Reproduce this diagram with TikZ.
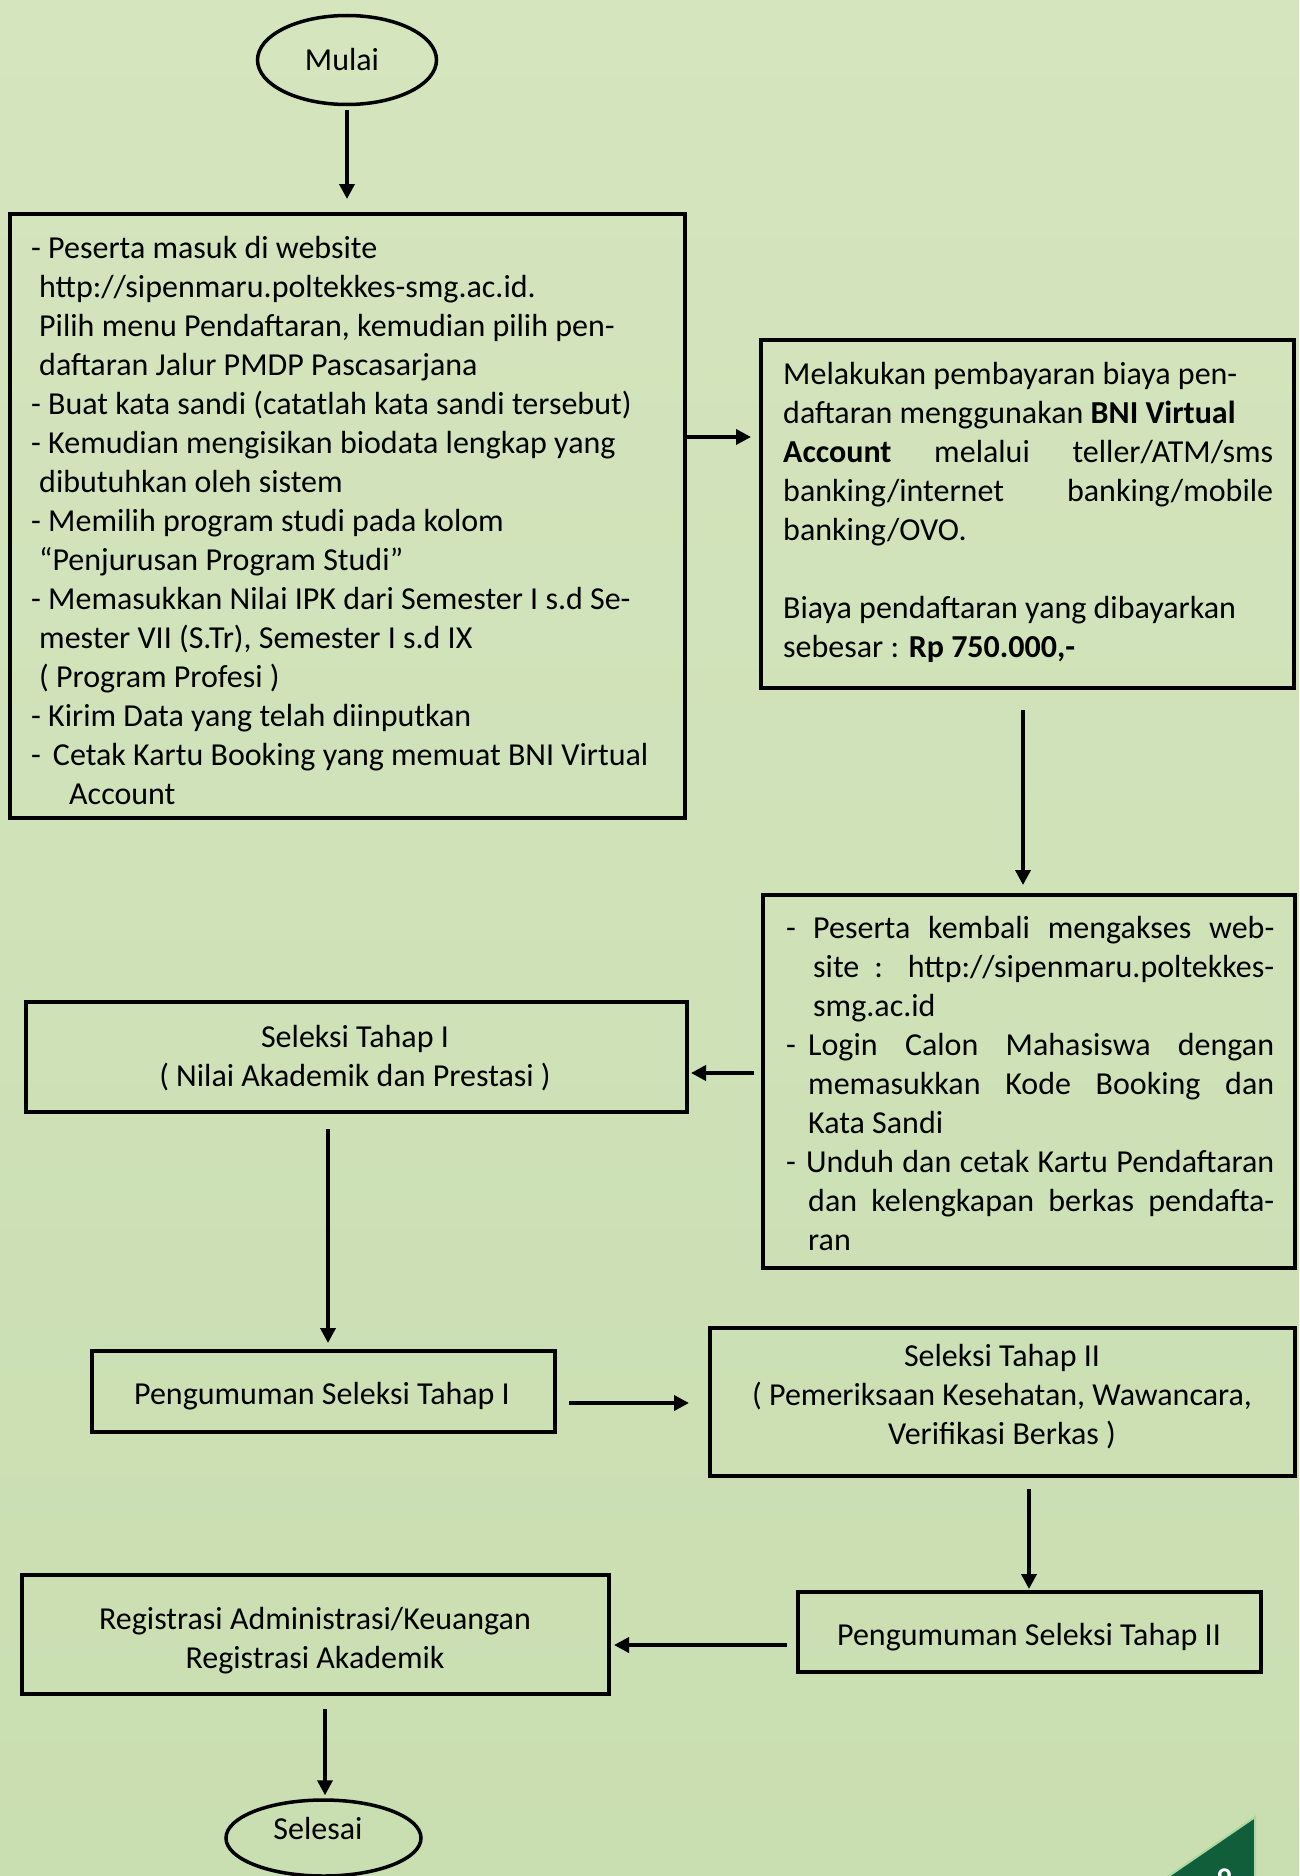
\documentclass[tikz,border=0pt]{standalone}
\usepackage{fontspec}
\setmainfont{Carlito}
\usetikzlibrary{arrows.meta,shapes.geometric,calc}
\definecolor{bgtop}{RGB}{213,229,190}
\definecolor{bgbot}{RGB}{201,222,177}
\definecolor{dkgreen}{RGB}{16,94,58}
\definecolor{edgegreen}{RGB}{172,214,162}
\begin{document}
\begin{tikzpicture}[x=1pt,y=-1pt,
  boxsty/.style={draw=black, line width=4pt, inner sep=0pt, rectangle},
  ovalsty/.style={ellipse, draw=black, line width=3.5pt, inner sep=0pt},
  txt/.style={inner sep=0pt, font=\fontsize{32}{39}\selectfont, align=left},
  ctxt/.style={inner sep=0pt, font=\fontsize{32}{39}\selectfont, align=center},
  arr/.style={line width=3.6pt, -{Triangle[width=15pt,length=15pt]}},
]
\useasboundingbox (0,0) rectangle (1299,1876);
\shade[top color=bgtop, bottom color=bgbot] (0,0) rectangle (1299,1876);

% ---- nodes ----
\node[ovalsty, minimum width=179pt, minimum height=89pt] (mulai) at (347,60) {};
\node[ctxt] (mulaiT) at (342,60) {Mulai};

\node[boxsty, minimum width=675pt, minimum height=604pt] (b1) at (347.5,516) {};
\node[txt, anchor=north west] (b1t) at (31,236) {%
- Peserta masuk di website\\
\hspace*{8pt}http://sipenmaru.poltekkes-smg.ac.id.\\
\hspace*{8pt}Pilih menu Pendaftaran, kemudian pilih pen-\\
\hspace*{8pt}daftaran Jalur PMDP Pascasarjana\\
- Buat kata sandi (catatlah kata sandi tersebut)\\
- Kemudian mengisikan biodata lengkap yang\\
\hspace*{8pt}dibutuhkan oleh sistem\\
- Memilih program studi pada kolom\\
\hspace*{8pt}“Penjurusan Program Studi”\\
- Memasukkan Nilai IPK dari Semester I s.d Se-\\
\hspace*{8pt}mester VII (S.Tr), Semester I s.d IX\\
\hspace*{8pt}( Program Profesi )\\
- Kirim Data yang telah diinputkan\\
-\hspace*{12pt}Cetak Kartu Booking yang memuat BNI Virtual\\
\hspace*{38pt}Account};

\node[boxsty, minimum width=533pt, minimum height=348pt] (b2) at (1027.5,514) {};
\node[txt, anchor=north west] (b2t) at (783,362) {%
Melakukan pembayaran biaya pen-\\
daftaran menggunakan \textbf{BNI Virtual}\\
\makebox[490pt][s]{\textbf{Account} melalui teller/ATM/sms}\\
\makebox[490pt][s]{banking/internet banking/mobile}\\
banking/OVO.\\[39pt]
Biaya pendaftaran yang dibayarkan\\
sebesar : \textbf{Rp 750.000,-}};

\node[boxsty, minimum width=532pt, minimum height=373pt] (b3) at (1029,1081.5) {};
\node[txt, anchor=north west] (b3t) at (786,916) {%
\makebox[27pt][l]{-}\makebox[461pt][s]{Peserta kembali mengakses web-}\\
\hspace*{27pt}\makebox[461pt][s]{site : http://sipenmaru.poltekkes-}\\
\hspace*{27pt}smg.ac.id\\
\makebox[22pt][l]{-}\makebox[466pt][s]{Login Calon Mahasiswa dengan}\\
\hspace*{22pt}\makebox[466pt][s]{memasukkan Kode Booking dan}\\
\hspace*{22pt}Kata Sandi\\
\makebox[20pt][l]{-}\makebox[468pt][s]{Unduh dan cetak Kartu Pendaftaran}\\
\hspace*{22pt}\makebox[466pt][s]{dan kelengkapan berkas pendafta-}\\
\hspace*{22pt}ran};

\node[boxsty, minimum width=661pt, minimum height=110pt] (s1) at (356.5,1057) {};
\node[ctxt] (s1t) at (355,1058) {Seleksi Tahap I\\( Nilai Akademik dan Prestasi )};

\node[boxsty, minimum width=463pt, minimum height=81pt] (p1) at (323.5,1391.5) {};
\node[ctxt] (p1t) at (322,1396) {Pengumuman Seleksi Tahap I};

\node[boxsty, minimum width=585pt, minimum height=148pt] (s2) at (1002.5,1402) {};
\node[ctxt] (s2t) at (1002,1397) {Seleksi Tahap II\\( Pemeriksaan Kesehatan, Wawancara,\\Verifikasi Berkas )};

\node[boxsty, minimum width=463pt, minimum height=80pt] (p2) at (1029.5,1632) {};
\node[ctxt] (p2t) at (1029,1637) {Pengumuman Seleksi Tahap II};

\node[boxsty, minimum width=587pt, minimum height=119pt] (reg) at (315.5,1634.5) {};
\node[ctxt] (regt) at (315,1641) {Registrasi Administrasi/Keuangan\\Registrasi Akademik};

\node[ovalsty, minimum width=195pt, minimum height=76pt] (sel) at (323.5,1838) {};
\node[ctxt] (selt) at (318,1828) {Selesai};

% ---- connectors ----
\draw[arr, shorten <=4pt, shorten >=13pt] (mulai.south) -- (mulai.south |- b1.north);
\draw[arr, shorten >=8pt] (b1.east |- 0,437) -- (b2.west |- 0,437);
\draw[arr, shorten <=20pt, shorten >=8pt] (b2.south -| 1023,0) -- (b3.north -| 1023,0);
\draw[arr, shorten <=7pt, shorten >=2pt] (b3.west |- 0,1073) -- (s1.east |- 0,1073);
\draw[arr, shorten <=15pt, shorten >=6pt] (s1.south -| 328,0) -- (p1.north -| 328,0);
\draw[arr, shorten <=12pt, shorten >=19pt] (p1.east |- 0,1403) -- (s2.west |- 0,1403);
\draw[arr, shorten <=11pt, shorten >=1pt] (s2.south -| 1029,0) -- (p2.north -| 1029,0);
\draw[arr, shorten <=9pt, shorten >=3pt] (p2.west |- 0,1645) -- (reg.east |- 0,1645);
\draw[arr, shorten <=13pt, shorten >=3pt] (reg.south -| 325,0) -- (sel.north -| 325,0);

% ---- page corner ----
\begin{scope}
\clip (0,0) rectangle (1299,1876);
\fill[dkgreen] (1255,1817) -- (1255,1882) -- (1160,1882) -- cycle;
\draw[edgegreen, line width=2pt] (1160,1882) -- (1255,1817) -- (1255,1882);
\node[text=white, font=\fontsize{30}{36}\selectfont\bfseries, anchor=north, inner sep=0pt] (pagenum) at (1224,1869) {9};
\end{scope}
\end{tikzpicture}
\end{document}
